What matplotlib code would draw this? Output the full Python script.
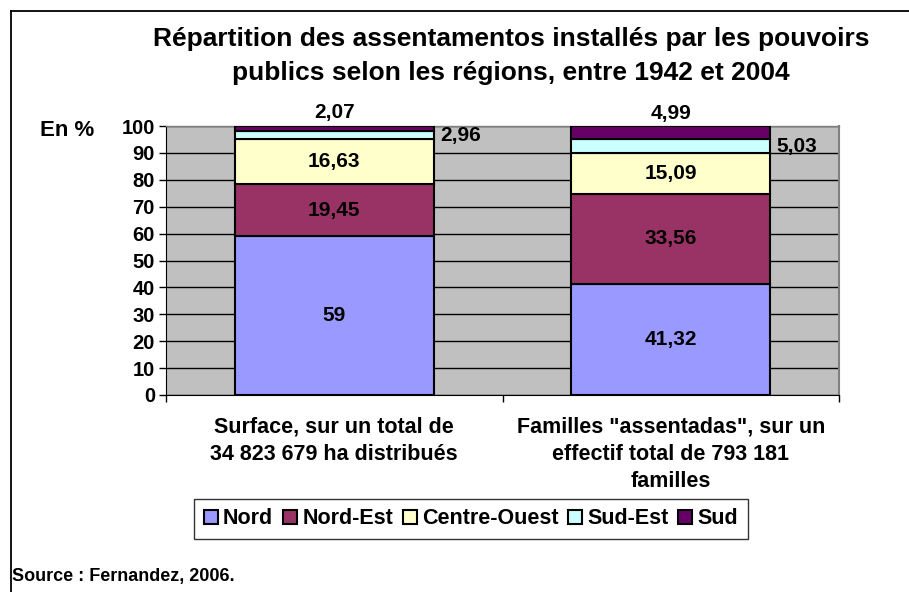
import numpy as np
import matplotlib.pyplot as plt

plt.rcParams['font.family'] = ['Liberation Sans', 'DejaVu Sans']
plt.rcParams['font.weight'] = 'bold'

categories = ['Surface, sur un total de\n34 823 679 ha distribués',
              'Familles "assentadas", sur un\neffectif total de 793 181\nfamilles']
regions = ['Nord', 'Nord-Est', 'Centre-Ouest', 'Sud-Est', 'Sud']
nord = [59, 41.32]
nord_est = [19.45, 33.56]
centre_ouest = [16.63, 15.09]
sud_est = [2.96, 5.03]
sud = [2.07, 4.99]
colors = ['#9999FF', '#993366', '#FFFFCC', '#CCFFFF', '#660066']


def fmt(v):
    # virgule décimale à la française
    s = ('%.2f' % v).rstrip('0').rstrip('.')
    return s.replace('.', ',')


fig = plt.figure(figsize=(9.09, 5.92), dpi=100)
ax = fig.add_axes([166 / 909, 1 - 395 / 592, 673 / 909, 269 / 592])
ax.set_facecolor('#C0C0C0')

x = np.arange(len(categories))
series = [nord, nord_est, centre_ouest, sud_est, sud]
bottom = np.zeros(len(categories))
bars = []
for vals, col, name in zip(series, colors, regions):
    b = ax.bar(x, vals, width=0.59, bottom=bottom, color=col,
               edgecolor='black', linewidth=1.5, label=name, zorder=3)
    bars.append(b)
    bottom = bottom + np.array(vals)

# étiquettes des valeurs
base = np.zeros(len(categories))
for i, vals in enumerate(series):
    for j, v in enumerate(vals):
        if i < 3:
            ax.text(x[j], base[j] + v / 2, fmt(v), ha='center', va='center',
                    fontsize=15, fontweight='bold', zorder=4)
        elif i == 3:
            ax.text(x[j] + 0.315, base[j] + v / 2, fmt(v), ha='left', va='center',
                    fontsize=15, fontweight='bold', zorder=4)
        else:
            ax.text(x[j], base[j] + v + 1.2, fmt(v), ha='center', va='bottom',
                    fontsize=15, fontweight='bold', zorder=4, clip_on=False)
    base = base + np.array(vals)

ax.set_xlim(-0.5, 1.5)
ax.set_ylim(0, 100)
ax.set_yticks(np.arange(0, 101, 10))
ax.yaxis.grid(True, color='black', linewidth=1.0, zorder=1)
ax.set_axisbelow(True)
ax.tick_params(axis='y', labelsize=14.5, direction='out', length=5, width=1, pad=3)
for lbl in ax.get_yticklabels():
    lbl.set_fontweight('bold')

ax.set_xticks([-0.5, 0.5, 1.5])
ax.set_xticklabels(['', '', ''])
ax.tick_params(axis='x', direction='out', length=5, width=1)
for j, c in enumerate(categories):
    ax.text(x[j], -8.0, c, ha='center', va='top', fontsize=15.5, fontweight='bold',
            linespacing=1.38)

ax.spines['left'].set_color('black')
ax.spines['bottom'].set_color('black')
ax.spines['top'].set_color('#808080')
ax.spines['right'].set_color('#808080')
ax.spines['top'].set_linewidth(1.0)
ax.spines['right'].set_linewidth(1.5)

fig.text(0.562, 1 - 56 / 592,
         'Répartition des assentamentos installés par les pouvoirs\npublics selon les régions, entre 1942 et 2004',
         ha='center', va='center', fontsize=19, fontweight='bold', linespacing=1.55)
fig.text(40 / 909, 1 - 130 / 592, 'En %', ha='left', va='center', fontsize=16,
         fontweight='bold')
fig.text(12 / 909, 1 - 577 / 592, 'Source : Fernandez, 2006.', ha='left',
         va='center', fontsize=13, fontweight='bold')

leg = fig.legend(handles=bars, labels=regions, loc='center',
                 bbox_to_anchor=(471 / 909, 1 - 519 / 592), ncol=5,
                 frameon=True, fancybox=False, edgecolor='black',
                 handlelength=0.65, handleheight=0.65, handletextpad=0.25,
                 columnspacing=0.45, borderpad=0.45,
                 prop={'weight': 'bold', 'size': 15.5})
leg.get_frame().set_linewidth(1.0)

# cadre du graphique
fig.add_artist(plt.Line2D([11 / 909, 11 / 909], [0, 1 - 11 / 592],
                          transform=fig.transFigure, color='black', linewidth=1.3))
fig.add_artist(plt.Line2D([11 / 909, 1], [1 - 11 / 592, 1 - 11 / 592],
                          transform=fig.transFigure, color='black', linewidth=1.3))

fig.savefig('out.png', dpi=100)
